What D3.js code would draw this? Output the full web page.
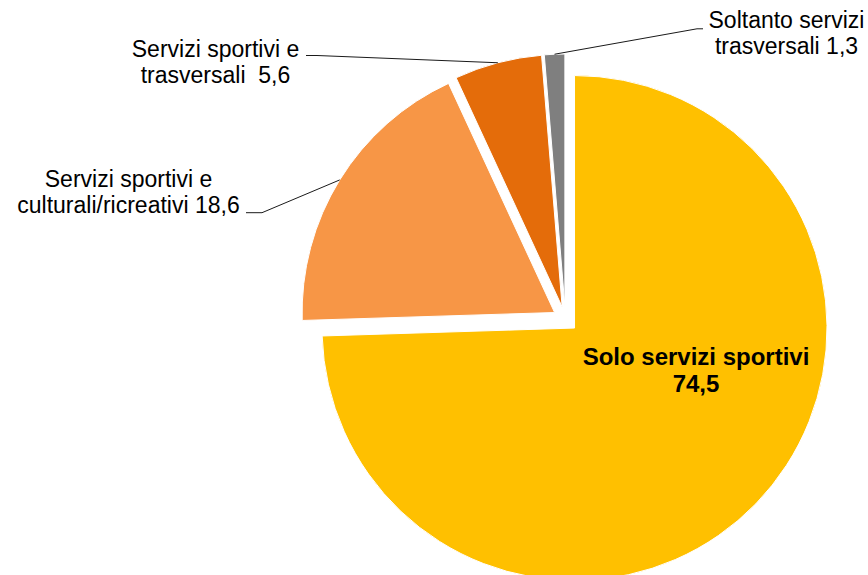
<!DOCTYPE html>
<html>
<head>
<meta charset="utf-8">
<script src="https://cdn.jsdelivr.net/npm/d3@7"></script>
<style>
  body { margin: 0; background: #fff; }
  svg { display: block; }
  text { font-family: "Liberation Sans", Arial, sans-serif; white-space: pre; }
</style>
</head>
<body>
<svg id="chart" width="868" height="575"></svg>
<script>
// data
var categories = ["Solo servizi sportivi", "Servizi sportivi e culturali/ricreativi",
  "Servizi sportivi e trasversali", "Soltanto servizi trasversali"];
var values = [74.5, 18.6, 5.6, 1.3];
var valueLabels = ["74,5", "18,6", "5,6", "1,3"];
var labelLines = [
  ["Solo servizi sportivi", "74,5"],
  ["Servizi sportivi e", "culturali/ricreativi 18,6"],
  ["Servizi sportivi e", "trasversali  5,6"],
  ["Soltanto servizi", "trasversali 1,3"]
];
var colors = ["#FFC000", "#F79646", "#E46C0A", "#7F7F7F"];

// layout
var cx = 565.4, cy = 319.2, radius = 252.5, explode = 12.7;
var labelLayout = [
  {x: 696, y: 365, inside: true},
  {x: 128.5, y: 187.3, hook: [246, 262, 212.7]},
  {x: 215.5, y: 57.3, hook: [306, 317, 55.5]},
  {x: 786.5, y: 28.3, hook: [703, 697, 28.8]}
];

var svg = d3.select("#chart");
var g = svg.append("g").attr("transform", "translate(" + cx + "," + cy + ")");

var pie = d3.pie().sort(null).value(function(d) { return d; });
var arc = d3.arc().innerRadius(0).outerRadius(radius);
var arcs = pie(values);

function dir(d) {
  var a = (d.startAngle + d.endAngle) / 2;
  return [Math.sin(a), -Math.cos(a)];
}

g.selectAll("path.slice").data(arcs).enter().append("path")
  .attr("class", "slice")
  .attr("d", arc)
  .attr("fill", function(d, i) { return colors[i]; })
  .attr("stroke", "#fff").attr("stroke-width", 1)
  .attr("transform", function(d) {
    var v = dir(d);
    return "translate(" + v[0] * explode + "," + v[1] * explode + ")";
  });

// leader lines
arcs.forEach(function(d, i) {
  var L = labelLayout[i];
  if (!L.hook) return;
  var v = dir(d);
  var px = cx + v[0] * (explode + radius), py = cy + v[1] * (explode + radius);
  svg.append("polyline")
    .attr("points", [[L.hook[0], L.hook[2]], [L.hook[1], L.hook[2]], [px, py]].join(" "))
    .attr("fill", "none").attr("stroke", "#1a1a1a").attr("stroke-width", 1);
});

// labels
labelLines.forEach(function(lines, i) {
  var L = labelLayout[i];
  var t = svg.append("text")
    .attr("text-anchor", "middle")
    .attr("font-size", L.inside ? 24 : 23)
    .attr("font-weight", L.inside ? "bold" : "normal")
    .attr("fill", "#000");
  lines.forEach(function(s, k) {
    t.append("tspan").attr("x", L.x).attr("y", L.y + k * (L.inside ? 26.7 : 25.7)).text(s);
  });
});
</script>
</body>
</html>
